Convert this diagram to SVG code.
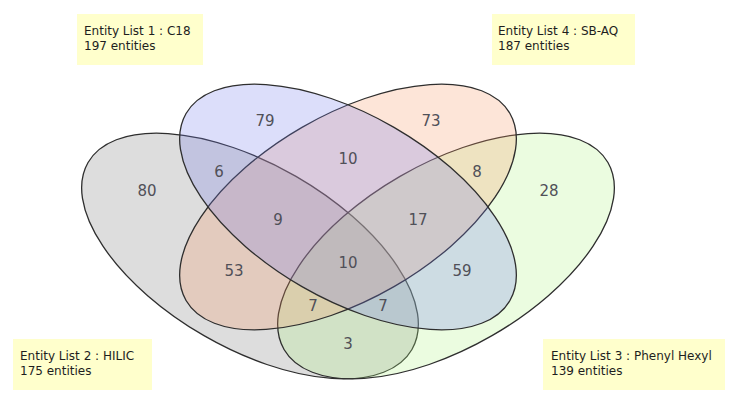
<svg xmlns="http://www.w3.org/2000/svg" width="733" height="400" viewBox="0 0 733 400">
<style>
.set{stroke:#2e2e2e;stroke-width:1.3;fill-opacity:0.25}
.n{font-family:"DejaVu Sans",Verdana,sans-serif;font-size:15px;fill:#505058;text-anchor:middle}
.lb{fill:#ffffcc}
.lt{font-family:"DejaVu Sans",Verdana,sans-serif;font-size:12px;fill:#1e1e1e}
</style>
<rect width="733" height="400" fill="#ffffff"/>
<g id="set-hilic"><ellipse class="set" cx="250" cy="256" rx="187" ry="92" transform="rotate(30 250 256)" fill="#777777"/></g>
<g id="set-phenylhexyl"><ellipse class="set" cx="446" cy="256" rx="187" ry="92" transform="rotate(-30 446 256)" fill="#aff383"/></g>
<g id="set-sbaq"><ellipse class="set" cx="348" cy="207" rx="187" ry="92" transform="rotate(-30 348 207)" fill="#f79763"/></g>
<g id="set-c18"><ellipse class="set" cx="348" cy="207" rx="187" ry="92" transform="rotate(30 348 207)" fill="#737beb"/></g>
<g id="counts">
<text class="n" x="265" y="126">79</text>
<text class="n" x="431" y="126">73</text>
<text class="n" x="147" y="196">80</text>
<text class="n" x="549" y="196">28</text>
<text class="n" x="219" y="177">6</text>
<text class="n" x="477" y="177">8</text>
<text class="n" x="348" y="164">10</text>
<text class="n" x="278" y="225">9</text>
<text class="n" x="418" y="225">17</text>
<text class="n" x="234" y="276">53</text>
<text class="n" x="462" y="276">59</text>
<text class="n" x="348" y="268">10</text>
<text class="n" x="313" y="311">7</text>
<text class="n" x="383" y="311">7</text>
<text class="n" x="348" y="349">3</text>
</g>
<g id="label-1"><rect class="lb" x="77" y="14" width="126" height="51"/><text class="lt" x="84" y="35">Entity List 1 : C18</text><text class="lt" x="84" y="50">197 entities</text></g>
<g id="label-4"><rect class="lb" x="492" y="14" width="143" height="51"/><text class="lt" x="498" y="35">Entity List 4 : SB-AQ</text><text class="lt" x="498" y="50">187 entities</text></g>
<g id="label-2"><rect class="lb" x="13" y="339" width="139" height="51"/><text class="lt" x="20" y="360">Entity List 2 : HILIC</text><text class="lt" x="20" y="375">175 entities</text></g>
<g id="label-3"><rect class="lb" x="543" y="339" width="182" height="51"/><text class="lt" x="551" y="360">Entity List 3 : Phenyl Hexyl</text><text class="lt" x="551" y="375">139 entities</text></g>
</svg>
